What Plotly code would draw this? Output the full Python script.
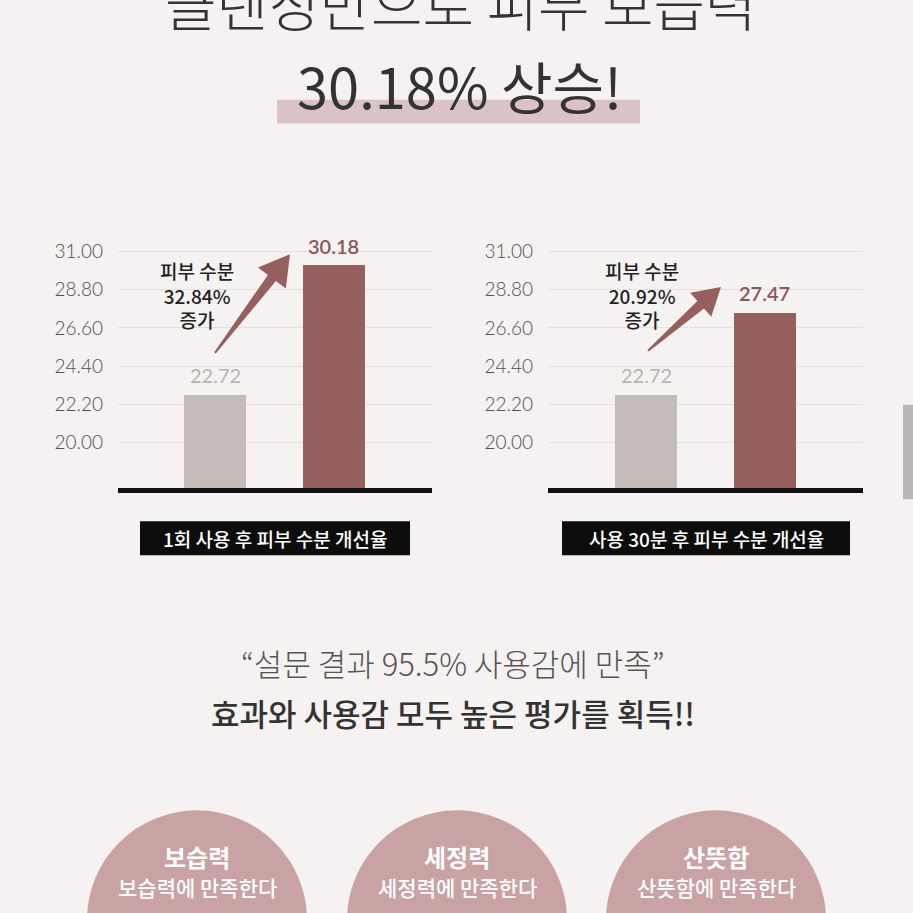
import math
import plotly.graph_objects as go

W = H = 913

# ---- data ----
categories = ["사용 전", "사용 후"]
left_values = [22.72, 30.18]
right_values = [22.72, 27.47]
left_increase = "32.84%"
right_increase = "20.92%"
tick_vals = [20.00, 22.20, 24.40, 26.60, 28.80, 31.00]
tick_text = ["20.00", "22.20", "24.40", "26.60", "28.80", "31.00"]
left_caption = "1회 사용 후 피부 수분 개선율"
right_caption = "사용 30분 후 피부 수분 개선율"
survey_items = ["보습력", "세정력", "산뜻함"]

BG = "#f6f2f2"
GRAY = "#c5bcba"
MAROON = "#96605f"
PINK = "#c9a2a3"
KR = "Noto Sans CJK KR"


def px(x):
    return x / W


def py(y):
    return 1 - y / H


def arrow_path(tail, tip, w_tail, w_neck, head_w, head_len):
    dx, dy = tip[0] - tail[0], tip[1] - tail[1]
    L = math.hypot(dx, dy)
    ux, uy = dx / L, dy / L
    nx, ny = -uy, ux
    neck = (tip[0] - ux * head_len, tip[1] - uy * head_len)
    pts = [
        (tail[0] + nx * w_tail / 2, tail[1] + ny * w_tail / 2),
        (neck[0] + nx * w_neck / 2, neck[1] + ny * w_neck / 2),
        (neck[0] + nx * head_w / 2, neck[1] + ny * head_w / 2),
        tip,
        (neck[0] - nx * head_w / 2, neck[1] - ny * head_w / 2),
        (neck[0] - nx * w_neck / 2, neck[1] - ny * w_neck / 2),
        (tail[0] - nx * w_tail / 2, tail[1] - ny * w_tail / 2),
    ]
    return "M " + " L ".join(f"{px(a):.5f},{py(b):.5f}" for a, b in pts) + " Z"


fig = go.Figure()
bar_colors = [GRAY, MAROON]
fig.add_trace(go.Bar(x=categories, y=left_values, marker=dict(color=bar_colors, line=dict(width=0)),
                     width=0.523, xaxis="x", yaxis="y", hoverinfo="skip"))
fig.add_trace(go.Bar(x=categories, y=right_values, marker=dict(color=bar_colors, line=dict(width=0)),
                     width=0.523, xaxis="x2", yaxis="y2", hoverinfo="skip"))

yax = dict(range=[17.36, 31.53], domain=[py(487), py(240)], tickvals=tick_vals, ticktext=tick_text,
           showgrid=True, gridcolor="#e6dfdf", gridwidth=1, zeroline=False, showline=False,
           ticks="", ticklabelstandoff=14,
           tickfont=dict(family="Lato", size=19, color="#505050", weight=300))
xax = dict(type="category", showticklabels=False, showgrid=False, zeroline=False,
           showline=True, linecolor="#111111", linewidth=5, ticks="")

fig.update_layout(
    width=W, height=H, margin=dict(l=0, r=0, t=0, b=0),
    paper_bgcolor=BG, plot_bgcolor=BG, showlegend=False, bargap=0,
    xaxis=dict(xax, domain=[px(118), px(432)], range=[-0.819, 1.831], anchor="y"),
    yaxis=dict(yax, anchor="x"),
    xaxis2=dict(xax, domain=[px(548), px(863)], range=[-0.831, 1.827], anchor="y2"),
    yaxis2=dict(yax, anchor="x2"),
)

ann = []
shapes = []

# headline (top line is cut by the page edge)
ann.append(dict(text="클렌징만으로 피부 보습력", x=px(460), y=py(41), yanchor="bottom",
                font=dict(family=KR, size=56, color="#333333", weight=300)))
shapes.append(dict(type="rect", xref="paper", yref="paper", x0=px(277), x1=px(640),
                   y0=py(121), y1=py(97), fillcolor="#dcc3c3", line=dict(width=0), layer="below"))
ann.append(dict(text="30.18% 상승!", x=px(459), y=py(82),
                font=dict(family=KR, size=56, color="#333333", weight=400)))

# value labels and arrows per chart
for xa, ya, vals, tail, tip, hl, hw in [
    ("x", "y", left_values, (215, 351), (290, 252), 30, 35),
    ("x2", "y2", right_values, (648, 349), (721, 285), 27, 32),
]:
    for cat, v, c, wt in zip(categories, vals, ["#bab2b0", "#8a5757"], [400, 600]):
        ann.append(dict(text=f"{v:.2f}", x=cat, y=v, xref=xa, yref=ya, yshift=20,
                        font=dict(family="Lato", size=20, color=c, weight=wt)))
    shapes.append(dict(type="path", xref="paper", yref="paper",
                       path=arrow_path(tail, tip, 2, 10, hw, hl),
                       fillcolor=MAROON, line=dict(width=0)))

ann.append(dict(text=f"피부 수분<br>{left_increase}<br>증가", x=px(197), y=py(293),
                font=dict(family=KR, size=19, color="#222222", weight=500)))
ann.append(dict(text=f"피부 수분<br>{right_increase}<br>증가", x=px(642), y=py(293),
                font=dict(family=KR, size=19, color="#222222", weight=500)))

# captions under charts
for x0, x1, txt in [(140, 410, left_caption), (562, 850, right_caption)]:
    shapes.append(dict(type="rect", xref="paper", yref="paper", x0=px(x0), x1=px(x1),
                       y0=py(554), y1=py(520), fillcolor="#0d0d0d", line=dict(width=0)))
    ann.append(dict(text=txt, x=px((x0 + x1) / 2), y=py(537),
                    font=dict(family=KR, size=19, color="white", weight=500)))

ann.append(dict(text="“설문 결과 95.5% 사용감에 만족”", x=px(453), y=py(662),
                font=dict(family=KR, size=31, color="#555555", weight=300)))
ann.append(dict(text="효과와 사용감 모두 높은 평가를 획득!!", x=px(453), y=py(712),
                font=dict(family=KR, size=31, color="#333333", weight=500)))

# survey circles
for cx, item in zip([197, 457, 716], survey_items):
    shapes.append(dict(type="circle", xref="paper", yref="paper", x0=px(cx - 110), x1=px(cx + 110),
                       y0=py(1030), y1=py(810), fillcolor=PINK, line=dict(width=0)))
    ann.append(dict(text=item, x=px(cx), y=py(856),
                    font=dict(family=KR, size=24, color="white", weight=700)))
    ann.append(dict(text=f"{item}에 만족한다", x=px(cx), y=py(887),
                    font=dict(family=KR, size=21, color="white", weight=500)))

# scrollbar sliver on the right edge
shapes.append(dict(type="rect", xref="paper", yref="paper", x0=px(903), x1=px(913),
                   y0=py(498), y1=py(403), fillcolor="#bcb6b6", line=dict(width=0)))

for a in ann:
    a.setdefault("xref", "paper")
    a.setdefault("yref", "paper")
    a.setdefault("xanchor", "center")
    a.setdefault("yanchor", "middle")
    a.setdefault("showarrow", False)
fig.update_layout(annotations=ann, shapes=shapes)

fig.write_html("out.html", config={"displayModeBar": False},
               post_script="document.body.style.margin='0';")
